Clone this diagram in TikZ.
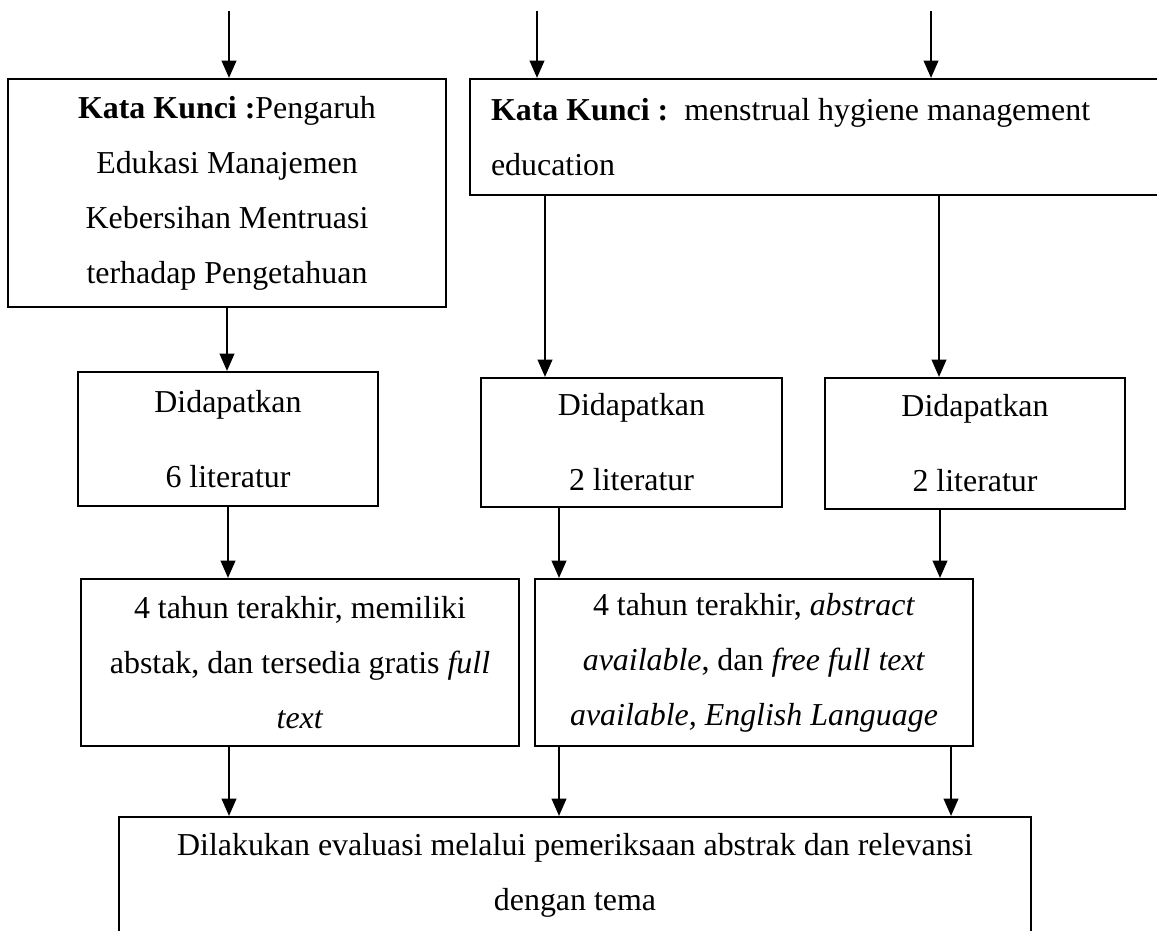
\documentclass[tikz,border=0pt]{standalone}
\usepackage{fontspec}
\setmainfont{Liberation Serif}
\usepackage{tikz}
\usetikzlibrary{arrows.meta}
\newlength{\px}
\setlength{\px}{0.376pt}

\begin{document}
\begin{tikzpicture}[x=0.376pt,y=-0.376pt,
    box/.style={draw,line width=0.8pt,inner sep=0pt,align=center,
      font=\fontsize{12}{20.7}\selectfont},
    arr/.style={line width=0.7pt,-{Triangle[width=5.5pt,length=6.5pt]}}]
  \useasboundingbox (0,0) rectangle (1157,931);
  % kata kunci
  \node[box,minimum width=438\px,minimum height=228\px] (kwA) at (227,193)
    {\textbf{Kata Kunci :}Pengaruh\\Edukasi Manajemen\\Kebersihan Mentruasi\\terhadap Pengetahuan};
  \node[box,align=flush left,text width=653\px,inner xsep=21\px,minimum height=116\px] (kwB) at (817.5,137)
    {\textbf{Kata Kunci :}\ \ menstrual hygiene management\\education};
  % hasil pencarian
  \node[box,minimum width=300\px,minimum height=134\px] (hasilA) at (228,439)
    {Didapatkan\\[7.5pt]6 literatur};
  \node[box,minimum width=301\px,minimum height=129\px] (hasilB) at (631.5,442.5)
    {Didapatkan\\[7.5pt]2 literatur};
  \node[box,minimum width=300\px,minimum height=131\px] (hasilC) at (975,443.5)
    {Didapatkan\\[7.5pt]2 literatur};
  % filter
  \node[box,minimum width=438\px,minimum height=167\px] (filterA) at (300,662.5)
    {4 tahun terakhir, memiliki\\abstak, dan tersedia gratis \textit{full}\\\textit{text}};
  \node[box,minimum width=438\px,minimum height=167\px] (filterB) at (754,662.5)
    {4 tahun terakhir, \textit{abstract}\\\textit{available}, dan \textit{free full text}\\\textit{available, English Language}};
  % evaluasi
  \node[box,minimum width=912\px,minimum height=117\px] (eval) at (575,875.5)
    {Dilakukan evaluasi melalui pemeriksaan abstrak dan relevansi\\dengan tema};

  \foreach \xa/\nm in {229/kwA, 537/kwB, 931/kwB}{
    \coordinate (top) at (\xa,11);
    \draw[arr] (top) -- (top |- \nm.north);}
  \draw[arr] (kwA.south) -- (kwA.south |- hasilA.north);
  \foreach \xa/\src/\dst in {545/kwB/hasilB, 939/kwB/hasilC, 228/hasilA/filterA,
      559/hasilB/filterB, 940/hasilC/filterB, 229/filterA/eval, 559/filterB/eval, 951/filterB/eval}{
    \coordinate (c) at (\xa,0);
    \draw[arr] (\src.south -| c) -- (\dst.north -| c);}
\end{tikzpicture}
\end{document}
